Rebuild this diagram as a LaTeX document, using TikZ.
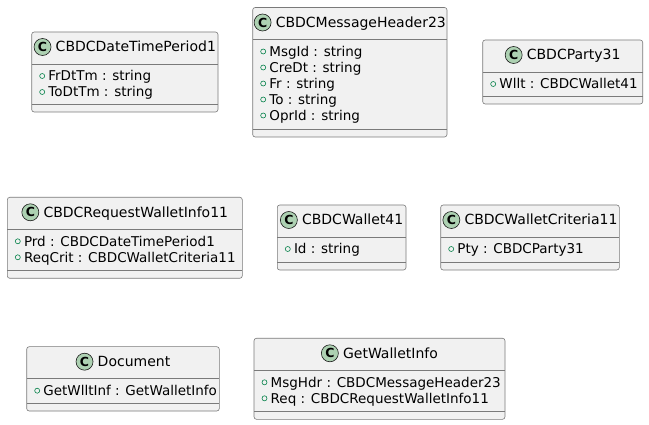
\documentclass[tikz,border=0pt]{standalone}
\usepackage{fontspec}
\setmainfont{DejaVu Sans}
\usetikzlibrary{calc}
\definecolor{boxfill}{HTML}{F1F1F1}
\definecolor{boxline}{HTML}{7A7A7A}
\definecolor{spotline}{HTML}{181818}
\definecolor{spotfill}{HTML}{ADD1B2}
\definecolor{fieldgreen}{HTML}{038048}
\tikzset{
  classbox/.style={draw=boxline, fill=boxfill, line width=0.6pt, rounded corners=2.5pt, inner sep=0pt, outer sep=0pt, anchor=north west},
  sepline/.style={draw=boxline, line width=0.6pt},
  classtitle/.style={font=\fontsize{14}{16}\selectfont, inner sep=0pt, text=black, text height=10pt, text depth=0pt},
  spot/.style={circle, draw=spotline, fill=spotfill, line width=0.6pt, minimum size=17pt, inner sep=0pt, font=\bfseries\fontsize{12.5}{12.5}\selectfont},
  attr/.style={font=\fontsize{13.5}{16}\selectfont, inner sep=0pt, anchor=west, text height=9.6pt, text depth=0pt},
  marker/.style={circle, draw=fieldgreen, line width=0.6pt, minimum size=5pt, inner sep=0pt},
}
\newcommand\umlclass[6]{%
  \node[classbox, minimum width=#4pt, minimum height=#5pt] (#1) at (#2,#3) {};
  \draw[sepline] ([yshift=-32pt]#1.north west) -- ([yshift=-32pt]#1.north east);
  \draw[sepline] ([yshift=8pt]#1.south west) -- ([yshift=8pt]#1.south east);
  \node[classtitle] (#1-title) at ($(#1.north)+(11pt,-15pt)$) {#6};
  \node[spot] (#1-spot) at ($(#1-title.west)+(-13pt,0pt)$) {C};
}
\newcommand\umlattr[3]{%
  \node[marker] (#1-m#2) at ($(#1.north west)+(10.5pt,-44pt-16pt*#2)$) {};
  \node[attr] (#1-a#2) at ($(#1.north west)+(16.5pt,-44pt-16pt*#2)$) {#3};
}
\begin{document}
\begin{tikzpicture}[x=1pt,y=-1pt]
\useasboundingbox[fill=white] (0,0) rectangle (649,425);

\umlclass{dtp}{31.7}{32}{186.3}{80}{CBDCDateTimePeriod1}
\umlattr{dtp}{0}{FrDtTm : string}
\umlattr{dtp}{1}{ToDtTm : string}

\umlclass{mh}{252.7}{7.5}{194.3}{129.5}{CBDCMessageHeader23}
\umlattr{mh}{0}{MsgId : string}
\umlattr{mh}{1}{CreDt : string}
\umlattr{mh}{2}{Fr : string}
\umlattr{mh}{3}{To : string}
\umlattr{mh}{4}{OprId : string}

\umlclass{pty}{482.7}{40}{160}{64}{CBDCParty31}
\umlattr{pty}{0}{Wllt : CBDCWallet41}

\umlclass{rwi}{7.3}{197.3}{235}{81}{CBDCRequestWalletInfo11}
\umlattr{rwi}{0}{Prd : CBDCDateTimePeriod1}
\umlattr{rwi}{1}{ReqCrit : CBDCWalletCriteria11}

\umlclass{wal}{277.3}{205}{128.7}{65}{CBDCWallet41}
\umlattr{wal}{0}{Id : string}

\umlclass{wc}{440.7}{205}{178.6}{65}{CBDCWalletCriteria11}
\umlattr{wc}{0}{Pty : CBDCParty31}

\umlclass{doc}{26.7}{346.7}{192.6}{64.3}{Document}
\umlattr{doc}{0}{GetWlltInf : GetWalletInfo}

\umlclass{gwi}{254}{338.3}{251}{81}{GetWalletInfo}
\umlattr{gwi}{0}{MsgHdr : CBDCMessageHeader23}
\umlattr{gwi}{1}{Req : CBDCRequestWalletInfo11}
\end{tikzpicture}
\end{document}
